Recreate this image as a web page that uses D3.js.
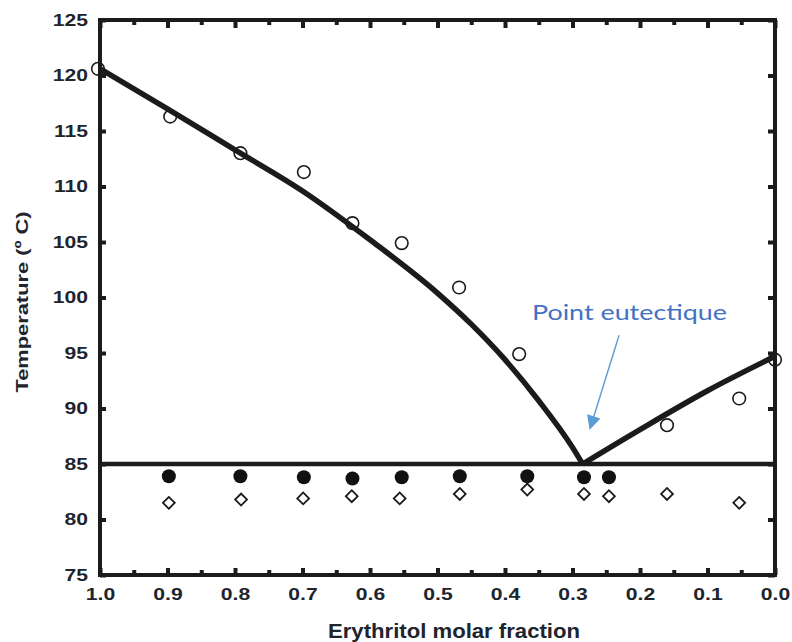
<!DOCTYPE html>
<html>
<head>
<meta charset="utf-8">
<script src="https://cdn.jsdelivr.net/npm/d3@7"></script>
<style>
  html, body { margin: 0; padding: 0; background: #fff; }
  svg { display: block; }
</style>
</head>
<body>
<svg id="chart" width="792" height="642"></svg>
<script>
// ---- data ----
const liquidusX = [1.003, 0.896, 0.792, 0.698, 0.626, 0.553, 0.468, 0.379, 0.160, 0.053, 0.0];
const liquidusT = [120.6, 116.3, 113.0, 111.3, 106.7, 104.9, 100.9, 94.9, 88.5, 90.9, 94.4];

const solidusX = [0.898, 0.792, 0.698, 0.626, 0.553, 0.467, 0.367, 0.283, 0.246];
const solidusT = [83.9, 83.9, 83.8, 83.7, 83.8, 83.9, 83.9, 83.8, 83.8];

const diamondX = [0.898, 0.791, 0.699, 0.627, 0.556, 0.467, 0.367, 0.283, 0.246, 0.160, 0.053];
const diamondT = [81.5, 81.8, 81.9, 82.1, 81.9, 82.3, 82.7, 82.3, 82.1, 82.3, 81.5];

const fitLeftX = [1.0, 0.9, 0.8, 0.7, 0.6, 0.5, 0.45, 0.4, 0.35, 0.3, 0.285];
const fitLeftT = [120.6, 117.0, 113.3, 109.6, 105.2, 100.4, 97.6, 94.4, 90.7, 86.5, 85.0];
const fitRightX = [0.285, 0.2, 0.1, 0.0];
const fitRightT = [85.0, 88.1, 91.6, 94.7];

const eutecticT = 85;

const xMajorTicks = [1.0, 0.9, 0.8, 0.7, 0.6, 0.5, 0.4, 0.3, 0.2, 0.1, 0.0];
const xMinorTicks = [0.95, 0.85, 0.75, 0.65, 0.55, 0.45, 0.35, 0.25, 0.15, 0.05];
const yTicks = [75, 80, 85, 90, 95, 100, 105, 110, 115, 120, 125];

const annotationText = "Point eutectique";
const annotationPos = [0.36, 98.0];
const arrowFrom = [0.231, 96.6];
const arrowTo = [0.274, 88.2];

const xTitle = "Erythritol molar fraction";
const yTitle = "Temperature (º C)";

// ---- drawing ----
const svg = d3.select("#chart");
const x = d3.scaleLinear().domain([1, 0]).range([100, 775]);
const y = d3.scaleLinear().domain([75, 125]).range([575, 20]);
const ink = "#1b1b1b";
const labelInk = "#20242c";

// defs for arrow
svg.append("defs").append("marker")
  .attr("id", "arrowhead")
  .attr("viewBox", "0 0 10 10")
  .attr("refX", 9).attr("refY", 5)
  .attr("markerUnits", "userSpaceOnUse")
  .attr("markerWidth", 16).attr("markerHeight", 14)
  .attr("orient", "auto")
  .append("path").attr("d", "M0,0 L10,5 L0,10 Z").attr("fill", "#5B9BD5");

// axes (ticks inward)
const tickStyle = g => {
  g.select(".domain").remove();
  g.selectAll(".tick line").attr("stroke", ink).attr("stroke-width", 4);
};

const gBottom = svg.append("g").attr("transform", `translate(0,${y(75)})`)
  .call(d3.axisBottom(x).tickValues(xMajorTicks).tickFormat(d3.format(".1f")).tickSize(-7).tickPadding(13));
gBottom.call(tickStyle);
gBottom.selectAll("text")
  .attr("font-family", "Liberation Sans, Arial, sans-serif").attr("font-weight", "bold")
  .attr("font-size", 16.5).attr("fill", labelInk)
  .attr("transform", "scale(1.28,1)");

svg.append("g").attr("transform", `translate(0,${y(75)})`)
  .call(d3.axisBottom(x).tickValues(xMinorTicks).tickFormat("").tickSize(-5))
  .call(tickStyle);

svg.append("g").attr("transform", `translate(0,${y(125)})`)
  .call(d3.axisTop(x).tickValues(xMajorTicks).tickFormat("").tickSize(-8))
  .call(tickStyle);
svg.append("g").attr("transform", `translate(0,${y(125)})`)
  .call(d3.axisTop(x).tickValues(xMinorTicks).tickFormat("").tickSize(-5))
  .call(tickStyle);

const gLeft = svg.append("g").attr("transform", `translate(${x(1)},0)`)
  .call(d3.axisLeft(y).tickValues(yTicks).tickSize(-6).tickPadding(12));
gLeft.call(tickStyle);
gLeft.selectAll("text")
  .attr("font-family", "Liberation Sans, Arial, sans-serif").attr("font-weight", "bold")
  .attr("font-size", 16.5).attr("fill", labelInk)
  .attr("x", -12 / 1.28)
  .attr("transform", "scale(1.28,1)");

svg.append("g").attr("transform", `translate(${x(0)},0)`)
  .call(d3.axisRight(y).tickValues(yTicks).tickFormat("").tickSize(-7))
  .call(tickStyle);

// frame
svg.append("rect")
  .attr("x", x(1)).attr("y", y(125))
  .attr("width", x(0) - x(1)).attr("height", y(75) - y(125))
  .attr("fill", "none").attr("stroke", ink).attr("stroke-width", 4);

// markers
svg.append("g").selectAll("circle").data(liquidusX.map((d, i) => [d, liquidusT[i]]))
  .join("circle")
  .attr("cx", d => x(d[0])).attr("cy", d => y(d[1])).attr("r", 6.3)
  .attr("fill", "none").attr("stroke", ink).attr("stroke-width", 1.6);

svg.append("g").selectAll("circle").data(solidusX.map((d, i) => [d, solidusT[i]]))
  .join("circle")
  .attr("cx", d => x(d[0])).attr("cy", d => y(d[1])).attr("r", 7)
  .attr("fill", "#111");

const diamond = d3.symbol().type(d3.symbolSquare).size(70);
svg.append("g").selectAll("path").data(diamondX.map((d, i) => [d, diamondT[i]]))
  .join("path")
  .attr("d", diamond)
  .attr("transform", d => `translate(${x(d[0])},${y(d[1])}) rotate(45)`)
  .attr("fill", "none").attr("stroke", ink).attr("stroke-width", 1.8);

// eutectic horizontal line
svg.append("line")
  .attr("x1", x(1)).attr("x2", x(0))
  .attr("y1", y(eutecticT)).attr("y2", y(eutecticT))
  .attr("stroke", ink).attr("stroke-width", 4.5);

// liquidus fit curves
const line = d3.line().x(d => x(d[0])).y(d => y(d[1])).curve(d3.curveMonotoneX);
svg.append("path")
  .datum(fitLeftX.map((d, i) => [d, fitLeftT[i]]))
  .attr("d", line).attr("fill", "none").attr("stroke", ink)
  .attr("stroke-width", 5.5).attr("stroke-linejoin", "round").attr("stroke-linecap", "butt");
svg.append("path")
  .datum(fitRightX.map((d, i) => [d, fitRightT[i]]))
  .attr("d", line).attr("fill", "none").attr("stroke", ink)
  .attr("stroke-width", 5.5).attr("stroke-linejoin", "round").attr("stroke-linecap", "butt");

// annotation
svg.append("text")
  .attr("x", x(annotationPos[0])).attr("y", y(annotationPos[1]))
  .attr("font-family", "Lato, 'Open Sans', sans-serif").attr("font-size", 21)
  .attr("fill", "#4472C4")
  .attr("textLength", 195).attr("lengthAdjust", "spacingAndGlyphs")
  .text(annotationText);

svg.append("line")
  .attr("x1", x(arrowFrom[0])).attr("y1", y(arrowFrom[1]))
  .attr("x2", x(arrowTo[0])).attr("y2", y(arrowTo[1]))
  .attr("stroke", "#5B9BD5").attr("stroke-width", 1.4)
  .attr("marker-end", "url(#arrowhead)");

// axis titles
svg.append("text")
  .attr("x", 454).attr("y", 638)
  .attr("text-anchor", "middle")
  .attr("font-family", "Liberation Sans, Arial, sans-serif").attr("font-weight", "bold")
  .attr("font-size", 20).attr("fill", labelInk)
  .attr("textLength", 252).attr("lengthAdjust", "spacingAndGlyphs")
  .text(xTitle);

svg.append("text")
  .attr("transform", "translate(28,302) rotate(-90)")
  .attr("text-anchor", "middle")
  .attr("font-family", "Liberation Sans, Arial, sans-serif").attr("font-weight", "bold")
  .attr("font-size", 17).attr("fill", labelInk)
  .attr("textLength", 181).attr("lengthAdjust", "spacingAndGlyphs")
  .text(yTitle);
</script>
</body>
</html>
